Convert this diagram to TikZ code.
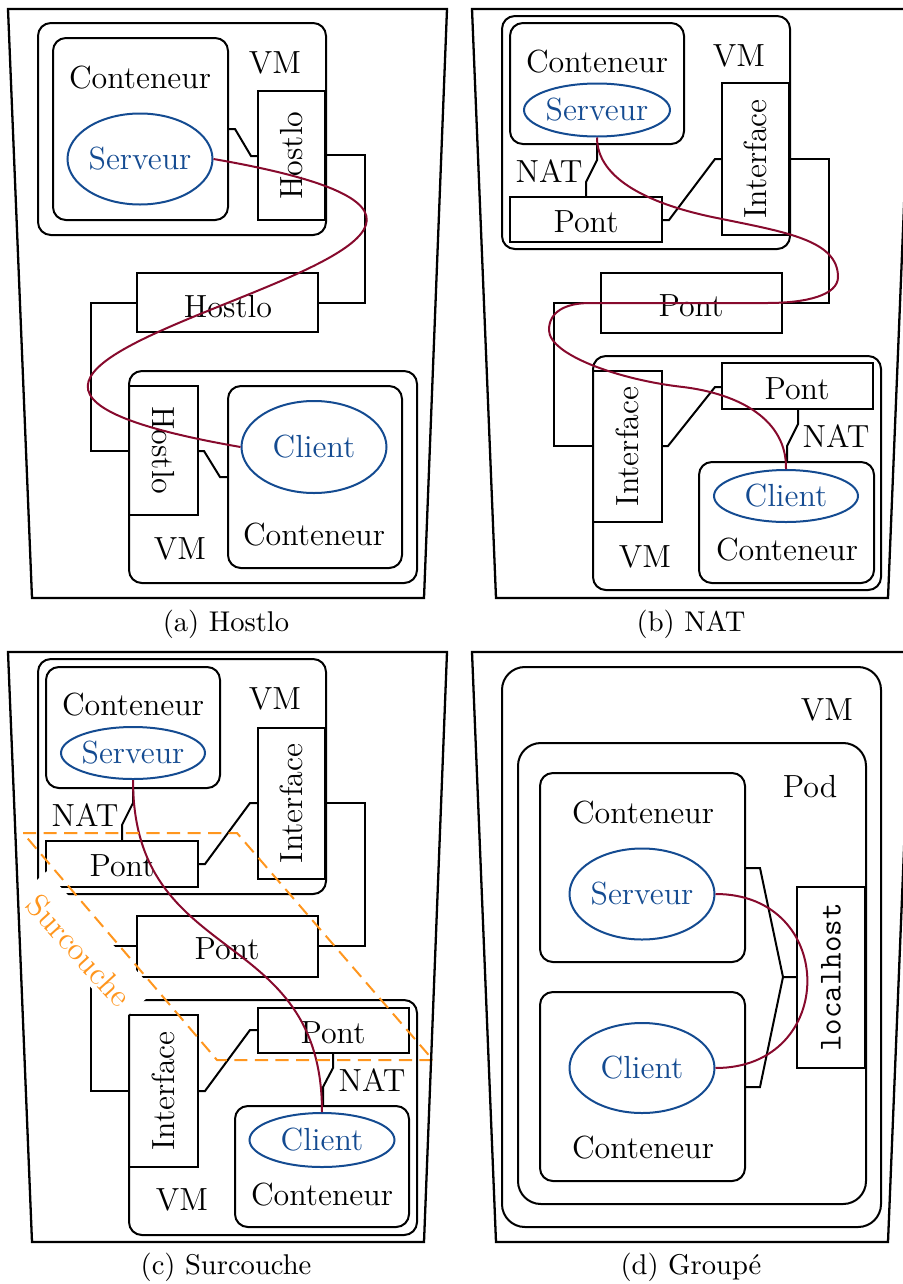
\documentclass[tikz,border=0pt]{standalone}
\usepackage{fontspec}
\usetikzlibrary{fit,shapes.geometric}
\definecolor{myblue}{RGB}{20,75,145}
\definecolor{myred}{RGB}{135,10,45}
\definecolor{myorange}{RGB}{255,150,30}
\newcommand\pxu{0.35pt}
\tikzset{
  box/.style={draw, line width=0.7pt, inner sep=0pt},
  rbox/.style={box, rounded corners=4.5pt},
  rboxbig/.style={box, rounded corners=8pt},
  lbl/.style={font=\fontsize{11.2}{13}\selectfont, inner sep=0pt},
  ttlbl/.style={font=\fontsize{11.2}{13}\selectfont\ttfamily, inner sep=0pt},
  blbl/.style={lbl, text=myblue},
  ell/.style 2 args={ellipse, draw=myblue, line width=0.7pt, inner sep=0pt,
    minimum width=#1*\pxu, minimum height=#2*\pxu},
  link/.style={line width=0.7pt},
  tunnel/.style={draw=myred, line width=0.7pt},
  trap/.style={line width=0.8pt},
  captxt/.style={font=\fontsize{10}{12}\selectfont, inner sep=0pt, anchor=base},
  overlay box/.style={draw=myorange, line width=0.7pt, dash pattern=on 4.6pt off 2.6pt},
}
\begin{document}
\begin{tikzpicture}[x=0.35pt, y=-0.35pt]
\useasboundingbox (0,0) rectangle (903,1284);

% ================= (a) Hostlo =================
\node[rbox, fit={(38,23)(326,235)}] (vmA) {};
\node[rbox, fit={(53,38)(228,220)}] (contA) {};
\node[lbl] (contAt) at (140,78) {Conteneur};
\node[ell={145}{91}] (servA) at (140,159) {};
\node[blbl] (servAt) at (servA) {Serveur};
\node[lbl] (vmAt) at (275,63) {VM};
\node[box, fit={(258,91)(325,220)}] (hA1) {};
\node[lbl, rotate=90] (hA1t) at (hA1) {Hostlo};
\draw[link] (contA.east |- 0,129) -- (235,129) -- (251,156) -- (hA1.west |- 0,156);
\node[box, fit={(137,273)(318,332)}] (hA2) {};
\node[lbl] (hA2t) at (228,307) {Hostlo};
\draw[link] (hA1.east |- 0,155) -- (365,155) -- (365,303) -- (hA2.east |- 0,303);
\node[rbox, fit={(129,371)(417,583)}] (vmA2) {};
\node[box, fit={(129,386)(198,515)}] (hA3) {};
\node[lbl, rotate=-90] (hA3t) at (hA3) {Hostlo};
\draw[link] (hA2.west |- 0,303) -- (91,303) -- (91,451) -- (hA3.west |- 0,451);
\node[rbox, fit={(228,386)(402,568)}] (contA2) {};
\node[ell={145}{92}] (cliA) at (314,447) {};
\node[blbl] (cliAt) at (cliA) {Client};
\node[lbl] (contA2t) at (314,535) {Conteneur};
\node[lbl] (vmA2t) at (180,549) {VM};
\draw[link] (hA3.east |- 0,451) -- (204,451) -- (220,477) -- (contA2.west |- 0,477);
\draw[tunnel] (servA.east) .. controls (733,249) and (-278,357) .. (cliA.west);
\draw[trap] (8,9) -- (447,9) -- (424,598) -- (32,598) -- cycle;
\node[captxt] (capA) at (226,631) {(a) Hostlo};

% ================= (b) NAT =================
\node[rbox, fit={(502,16)(790,249)}] (vmB) {};
\node[rbox, fit={(510,23)(684,144)}] (contB) {};
\node[lbl] (contBt) at (597,62) {Conteneur};
\node[ell={146}{53}] (servB) at (597,110) {};
\node[blbl] (servBt) at (servB) {Serveur};
\node[lbl] (vmBt) at (739,56) {VM};
\node[box, fit={(722,83)(789,235)}] (ifB) {};
\node[lbl, rotate=90] (ifBt) at (ifB) {Interface};
\node[box, fit={(510,197)(662,242)}] (pontB) {};
\node[lbl] (pontBt) at (586,222) {Pont};
\draw[link] (contB.south) -- (597,160) -- (586,182) -- (586,0 |- pontB.north);
\node[lbl] (natB) at (549,171) {NAT};
\draw[link] (pontB.east |- 0,220) -- (669,220) -- (715,159) -- (ifB.west |- 0,159);
\node[box, fit={(601,273)(782,333)}] (pontB2) {};
\node[lbl] (pontB2t) at (691,306) {Pont};
\draw[link] (ifB.east |- 0,159) -- (829,159) -- (829,303) -- (pontB2.east |- 0,303);
\node[rbox, fit={(593,356)(881,590)}] (vmB2) {};
\node[box, fit={(593,371)(662,522)}] (ifB2) {};
\node[lbl, rotate=90] (ifB2t) at (ifB2) {Interface};
\draw[link] (pontB2.west |- 0,303) -- (554,303) -- (554,446) -- (ifB2.west |- 0,446);
\node[box, fit={(722,363)(873,409)}] (pontB3) {};
\node[lbl] (pontB3t) at (797,389) {Pont};
\draw[link] (ifB2.east |- 0,446) -- (668,446) -- (715,387) -- (pontB3.west |- 0,387);
\node[rbox, fit={(699,462)(874,583)}] (contB2) {};
\draw[link] (798,0 |- pontB3.south) -- (798,424) -- (787,446) -- (787,0 |- contB2.north);
\node[lbl] (natB2) at (836,436) {NAT};
\node[ell={144}{52}] (cliB) at (786,496) {};
\node[blbl] (cliBt) at (cliB) {Client};
\node[lbl] (contB2t) at (787,550) {Conteneur};
\node[lbl] (vmB2t) at (645,557) {VM};
\draw[tunnel] (servB.south) .. controls (597,180) and (652,205) .. (717,218)
  .. controls (785,232) and (838,240) .. (838,277)
  .. controls (838,295) and (807,303) .. (767,303)
  -- (590,303)
  .. controls (565,303) and (549,312) .. (549,330)
  .. controls (549,355) and (620,380) .. (683,387)
  .. controls (740,394) and (787,420) .. (cliB.north);
\draw[trap] (472,9) -- (912,9) -- (888,598) -- (496,598) -- cycle;
\node[captxt] (capB) at (691,631) {(b) NAT};

% ================= (c) Surcouche =================
\node[rbox, fit={(38,659)(326,894)}] (vmC) {};
\node[rbox, fit={(46,667)(220,788)}] (contC) {};
\node[lbl] (contCt) at (133,705) {Conteneur};
\node[ell={144}{52}] (servC) at (133,753) {};
\node[blbl] (servCt) at (servC) {Serveur};
\node[lbl] (vmCt) at (275,699) {VM};
\node[box, fit={(258,728)(325,879)}] (ifC) {};
\node[lbl, rotate=90] (ifCt) at (ifC) {Interface};
\node[box, fit={(46,841)(198,887)}] (pontC) {};
\node[lbl] (pontCt) at (122,866) {Pont};
\draw[link] (contC.south) -- (133,803) -- (122,825) -- (122,0 |- pontC.north);
\node[lbl] (natC) at (85,815) {NAT};
\draw[link] (pontC.east |- 0,864) -- (205,864) -- (250,803) -- (ifC.west |- 0,803);
\node[box, fit={(137,916)(318,977)}] (pontC2) {};
\node[lbl] (pontC2t) at (227,949) {Pont};
\draw[link] (ifC.east |- 0,803) -- (365,803) -- (365,946) -- (pontC2.east |- 0,946);
\node[rbox, fit={(129,1000)(417,1235)}] (vmC2) {};
\node[box, fit={(129,1015)(198,1167)}] (ifC2) {};
\node[lbl, rotate=90] (ifC2t) at (ifC2) {Interface};
\draw[link] (pontC2.west |- 0,946) -- (91,946) -- (91,1091) -- (ifC2.west |- 0,1091);
\node[box, fit={(258,1008)(409,1053)}] (pontC3) {};
\node[lbl] (pontC3t) at (333,1033) {Pont};
\draw[link] (ifC2.east |- 0,1091) -- (205,1091) -- (250,1030) -- (pontC3.west |- 0,1030);
\node[rbox, fit={(235,1106)(409,1227)}] (contC2) {};
\draw[link] (333,0 |- pontC3.south) -- (333,1068) -- (323,1087) -- (323,0 |- contC2.north);
\node[lbl] (natC2) at (372,1080) {NAT};
\node[ell={145}{54}] (cliC) at (322,1140) {};
\node[blbl] (cliCt) at (cliC) {Client};
\node[lbl] (contC2t) at (322,1195) {Conteneur};
\node[lbl] (vmC2t) at (182,1200) {VM};
\draw[tunnel] (servC.south) .. controls (133,969) and (322,923) .. (cliC.north);
\node[lbl, text=myorange, fill=white, rotate=-47.8, anchor=base,
      inner xsep=4pt, inner ysep=1.75pt, text height=12.25pt, text depth=0pt]
      (surc) at (71,958) {Surcouche};
\draw[overlay box] (23,833) -- (237,833) -- (433,1060) -- (217,1060) -- cycle;
\draw[trap] (8,652) -- (447,652) -- (424,1242) -- (32,1242) -- cycle;
\node[captxt] (capC) at (226,1274) {(c) Surcouche};

% ================= (d) Groupé =================
\node[rboxbig, fit={(502,667)(881,1227)}] (vmD) {};
\node[lbl] (vmDt) at (827,710) {VM};
\node[rboxbig, fit={(518,743)(866,1204)}] (podD) {};
\node[lbl] (podDt) at (810,787) {Pod};
\node[rbox, fit={(540,773)(745,962)}] (contD1) {};
\node[lbl] (contD1t) at (643,813) {Conteneur};
\node[ell={145}{91}] (servD) at (642,894) {};
\node[blbl] (servDt) at (servD) {Serveur};
\node[rbox, fit={(540,992)(745,1181)}] (contD2) {};
\node[ell={145}{90}] (cliD) at (642,1068) {};
\node[blbl] (cliDt) at (cliD) {Client};
\node[lbl] (contD2t) at (643,1148) {Conteneur};
\node[box, fit={(797,887)(865,1068)}] (locD) {};
\node[ttlbl, rotate=90] (locDt) at (locD) {localhost};
\coordinate (jD) at (783,977);
\draw[link] (contD1.east |- 0,868) -- (760,868) -- (jD) -- (locD.west |- jD);
\draw[link] (contD2.east |- 0,1087) -- (760,1087) -- (jD);
\draw[tunnel] (servD.east) .. controls (838,894) and (838,1068) .. (cliD.east);
\draw[trap] (472,652) -- (912,652) -- (888,1242) -- (496,1242) -- cycle;
\node[captxt] (capD) at (691,1274) {(d) Groupé};
\end{tikzpicture}
\end{document}
